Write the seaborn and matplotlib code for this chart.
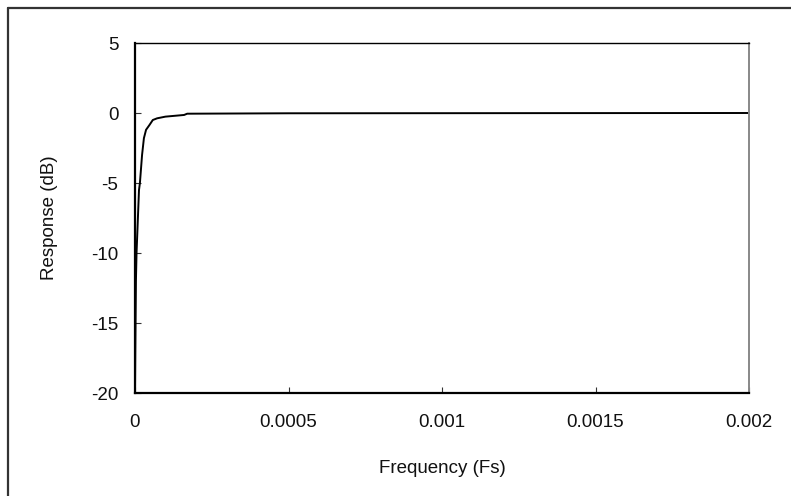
import numpy as np
import pandas as pd
import matplotlib
matplotlib.use("Agg")
import matplotlib.pyplot as plt
import seaborn as sns
from matplotlib.lines import Line2D

# values
freq = [0.0, 1e-6, 3e-6, 5e-6, 7.5e-6, 1.3e-5, 1.6e-5, 2.3e-5, 2.9e-5,
        3.6e-5, 4.7e-5, 5.8e-5, 7.2e-5, 9.9e-5, 1.6e-4, 1.7e-4, 5e-4, 2e-3]
resp = [-20.0, -17.0, -12.0, -10.0, -8.6, -5.5, -5.0, -3.0, -1.8,
        -1.2, -0.86, -0.5, -0.38, -0.26, -0.14, -0.05, -0.02, 0.0]

x_ticks = [0, 0.0005, 0.001, 0.0015, 0.002]
x_tick_labels = ["0", "0.0005", "0.001", "0.0015", "0.002"]
y_ticks = [-20, -15, -10, -5, 0, 5]

df = pd.DataFrame({"freq": freq, "resp": resp})

sns.set_style("white")
plt.rcParams["font.family"] = ["Liberation Sans", "DejaVu Sans"]
plt.rcParams["axes.unicode_minus"] = False

fig = plt.figure(figsize=(7.91, 4.96), dpi=100)
ax = fig.add_axes([135 / 791, 1 - 393 / 496, 614 / 791, 350 / 496])

sns.lineplot(data=df, x="freq", y="resp", ax=ax, color="black", linewidth=1.4)

ax.set_xlim(0, 0.002)
ax.set_ylim(-20, 5)
ax.set_xticks(x_ticks)
ax.set_xticklabels(x_tick_labels)
ax.set_yticks(y_ticks)
ax.tick_params(direction="in", length=4.5, width=0.8, color="#333333",
               labelsize=13.5, pad=15, bottom=True, left=True,
               labelcolor="#111111")
ax.tick_params(axis="y", pad=12)

ax.set_xlabel("Frequency (Fs)", fontsize=13.5, labelpad=21, color="#111111")
ax.set_ylabel("Response (dB)", fontsize=13.5, labelpad=24, color="#111111")

ax.spines["left"].set_linewidth(1.6)
ax.spines["bottom"].set_linewidth(1.6)
ax.spines["left"].set_color("black")
ax.spines["bottom"].set_color("black")
ax.spines["top"].set_linewidth(1.0)
ax.spines["top"].set_color("black")
ax.spines["right"].set_linewidth(1.4)
ax.spines["right"].set_color("#888888")

# outer chart frame (only left and top edges show in the reference)
fig.add_artist(Line2D([8 / 791, 8 / 791], [0, 1 - 8 / 496],
                      transform=fig.transFigure, color="#333333", linewidth=1.6))
fig.add_artist(Line2D([8 / 791, 1], [1 - 8 / 496, 1 - 8 / 496],
                      transform=fig.transFigure, color="#333333", linewidth=1.6))

fig.savefig("out.png", dpi=100)
